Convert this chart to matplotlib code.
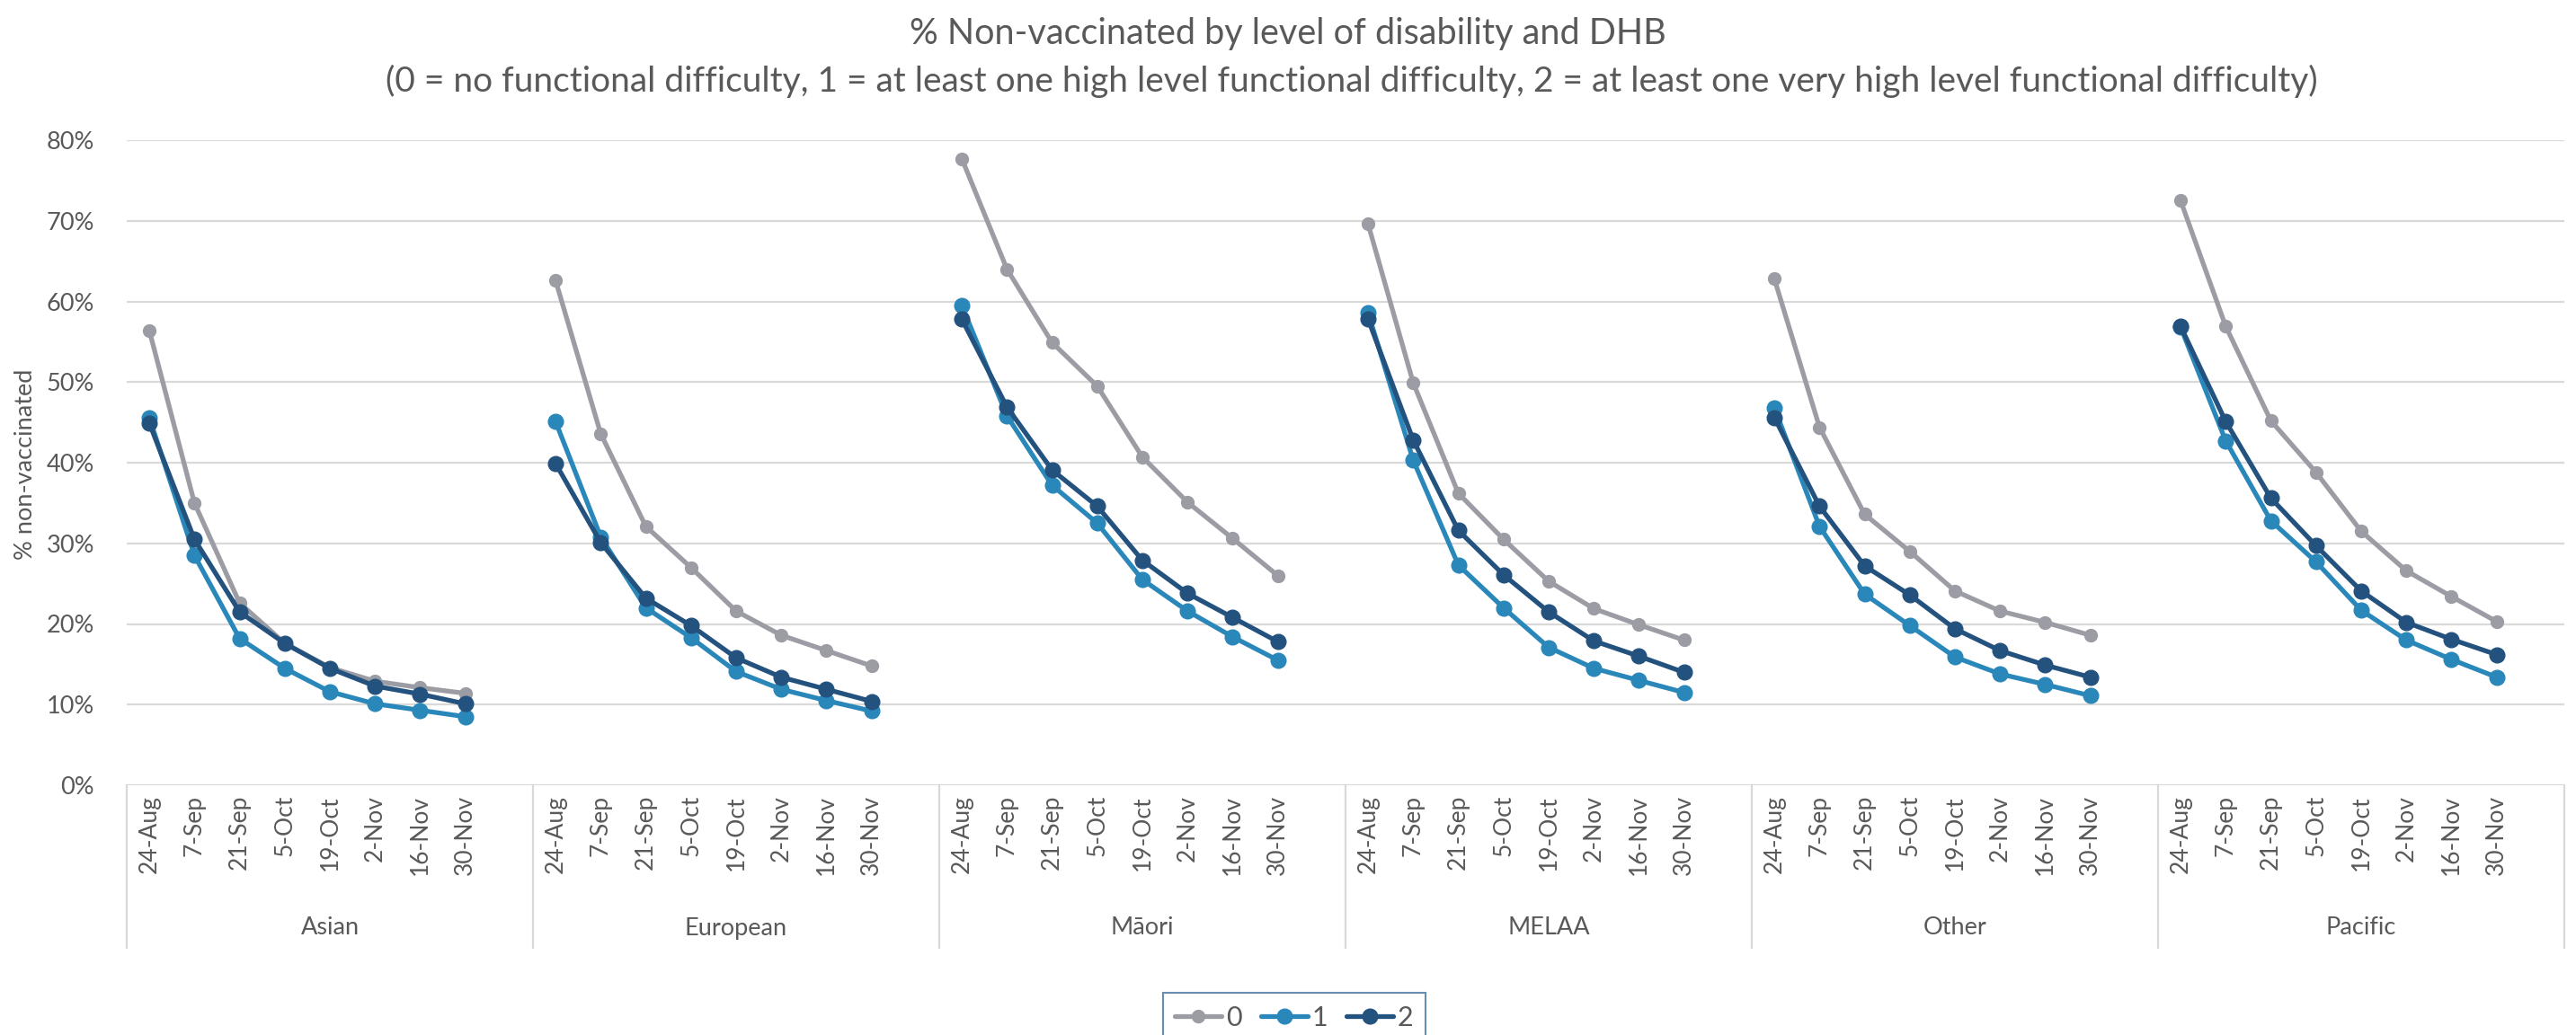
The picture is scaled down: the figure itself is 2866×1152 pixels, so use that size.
import matplotlib
matplotlib.use("Agg")
import matplotlib.pyplot as plt
import matplotlib.transforms as mtransforms
from matplotlib.ticker import PercentFormatter
from matplotlib.lines import Line2D

plt.rcParams['font.family'] = ['Lato', 'DejaVu Sans']

groups = ['Asian', 'European', 'Māori', 'MELAA', 'Other', 'Pacific']
dates = ['24-Aug', '7-Sep', '21-Sep', '5-Oct', '19-Oct', '2-Nov', '16-Nov', '30-Nov']
levels = ['0', '1', '2']

# % non-vaccinated, per group, 8 fortnights each
level0 = [
    [56.4, 35.0, 22.6, 17.6, 14.6, 12.9, 12.1, 11.4],   # Asian
    [62.6, 43.6, 32.1, 27.0, 21.6, 18.6, 16.7, 14.8],   # European
    [77.7, 64.0, 54.9, 49.5, 40.7, 35.1, 30.6, 26.0],   # Maori
    [69.6, 49.9, 36.2, 30.5, 25.3, 21.9, 19.9, 18.0],   # MELAA
    [62.8, 44.4, 33.6, 29.0, 24.1, 21.6, 20.2, 18.6],   # Other
    [72.5, 56.9, 45.2, 38.8, 31.5, 26.6, 23.4, 20.3],   # Pacific
]
level1 = [
    [45.6, 28.5, 18.2, 14.5, 11.6, 10.1, 9.3, 8.5],
    [45.1, 30.8, 22.0, 18.3, 14.1, 11.9, 10.5, 9.2],
    [59.5, 45.8, 37.2, 32.5, 25.5, 21.6, 18.4, 15.5],
    [58.6, 40.3, 27.3, 22.0, 17.1, 14.5, 13.0, 11.5],
    [46.8, 32.1, 23.7, 19.8, 15.9, 13.8, 12.5, 11.1],
    [56.8, 42.7, 32.8, 27.7, 21.7, 18.0, 15.6, 13.4],
]
level2 = [
    [44.9, 30.5, 21.5, 17.6, 14.5, 12.3, 11.3, 10.1],
    [39.9, 30.1, 23.2, 19.8, 15.8, 13.4, 11.9, 10.4],
    [57.8, 46.9, 39.1, 34.6, 27.9, 23.8, 20.8, 17.8],
    [57.8, 42.8, 31.6, 26.1, 21.5, 17.9, 16.0, 14.0],
    [45.6, 34.6, 27.2, 23.6, 19.4, 16.7, 14.9, 13.4],
    [56.9, 45.1, 35.6, 29.7, 24.1, 20.2, 18.1, 16.2],
]

colors = ['#9c9da4', '#2a87b9', '#24527e']
msizes = [10, 12, 12]
lw = 3.8
txt = '#595959'
grid_c = '#d9d9d9'

W, H = 2866, 1152
fig = plt.figure(figsize=(W / 100, H / 100), dpi=100)
ax = fig.add_axes([141 / W, 1 - 874 / H, (2853 - 141) / W, (874 - 156) / H])

step = len(dates) + 1  # one empty slot after each group
for lv, data in enumerate([level0, level1, level2]):
    for g in range(len(groups)):
        xs = [g * step + i for i in range(len(dates))]
        ax.plot(xs, [v / 100 for v in data[g]], color=colors[lv], lw=lw,
                marker='o', ms=msizes[lv], solid_capstyle='round', zorder=3 + lv)

ax.set_xlim(-0.5, len(groups) * step - 0.5)
ax.set_ylim(0, 0.8)
ax.set_yticks([i / 10 for i in range(9)])
ax.yaxis.set_major_formatter(PercentFormatter(1.0, decimals=0))
ax.grid(axis='y', color=grid_c, lw=1.6)
ax.set_axisbelow(True)
for s in ax.spines.values():
    s.set_visible(False)

xt, xl = [], []
for g in range(len(groups)):
    for i, d in enumerate(dates):
        xt.append(g * step + i)
        xl.append(d)
ax.set_xticks(xt)
ax.set_xticklabels(xl, rotation=90, va='top')
ax.tick_params(axis='x', length=0, pad=8, labelsize=19, colors=txt)
ax.tick_params(axis='y', length=0, pad=26, labelsize=19.5, colors=txt)

# category axis boxes and group labels
trans = mtransforms.blended_transform_factory(ax.transData, ax.transAxes)
bot = -(1055 - 874) / (874 - 156)
for g in range(len(groups) + 1):
    ax.plot([g * step - 0.5] * 2, [0, bot], transform=trans, color=grid_c,
            lw=1.6, clip_on=False)
for g, name in enumerate(groups):
    ax.text(g * step + 4, -(1033 - 874) / (874 - 156), name, transform=trans,
            ha='center', va='center', fontsize=19.5, color=txt)

fig.text(0.5, 1 - 38 / H, '% Non-vaccinated by level of disability and DHB',
         ha='center', va='center', fontsize=28.5, color=txt)
fig.text(1504 / W, 1 - 90 / H,
         '(0 = no functional difficulty, 1 = at least one high level functional difficulty, '
         '2 = at least one very high level functional difficulty)',
         ha='center', va='center', fontsize=28, color=txt)
fig.text(29 / W, 1 - 517 / H, '% non-vaccinated', rotation=90, ha='center',
         va='center', fontsize=19.5, color=txt)

handles = [Line2D([], [], color=colors[k], lw=lw, marker='o', ms=msizes[k],
                  solid_capstyle='round')
           for k in range(3)]
leg = fig.legend(handles, levels, loc='upper center', bbox_to_anchor=(1440 / W, 1 - 1090 / H),
                 ncol=3, frameon=True, fancybox=False, fontsize=22, handlelength=1.7,
                 handletextpad=0.15, columnspacing=0.7, borderpad=0.45, labelcolor=txt)
leg.get_frame().set_edgecolor('#41719c')
leg.get_frame().set_linewidth(1.5)

fig.savefig('out.png', dpi=100, facecolor='white')
